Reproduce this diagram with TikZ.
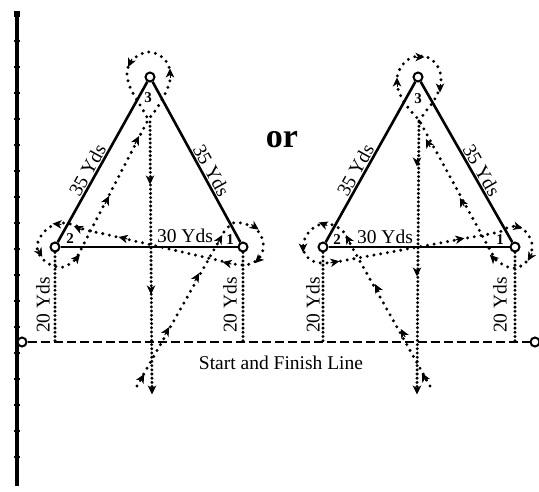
\documentclass[tikz,border=0pt]{standalone}
\usepackage{fontspec}
\setmainfont{Liberation Serif}
\usetikzlibrary{arrows.meta}
\newcommand\ahd[2]{\draw[ahead] (#1) ++(#2:-4.5) -- ++(#2:9);}
\begin{document}
\begin{tikzpicture}[x=1pt,y=-1pt,
  cone/.style={circle,draw,fill=white,line width=2pt,inner sep=0pt,minimum size=9pt},
  side/.style={line width=2.6pt},
  route/.style={line width=3.3pt,line cap=round,dash pattern=on 0pt off 6.8pt},
  dense/.style={line width=3.3pt,line cap=round,dash pattern=on 0pt off 4.2pt},
  ahead/.style={-{Stealth[length=9pt,width=8.5pt,inset=2.6pt]},line width=1pt},
  lab/.style={font=\fontsize{19.5}{21}\selectfont,inner sep=1pt},
  num/.style={font=\fontsize{15}{16}\selectfont\bfseries,inner sep=0pt},
]
\useasboundingbox (0,0) rectangle (539,491);

% pole
\draw[line width=3.4pt] (17,13) -- (17,486);
\foreach \yy in {15,41,...,457} \draw[line width=2.6pt] (13.8,\yy) -- (20.2,\yy);
\fill (14,11) rectangle (20,17);

% cones
\node[cone] (L1) at (243,247) {};
\node[cone] (L2) at (55,247) {};
\node[cone] (L3) at (150,77) {};
\node[cone] (R1) at (515,247) {};
\node[cone] (R2) at (323,247) {};
\node[cone] (R3) at (418,77) {};
\node[cone] (S1) at (22,342) {};
\node[cone] (S2) at (535,342) {};

% start line
\draw[line width=2.4pt,dash pattern=on 9pt off 4pt] (S1) -- (S2);

% triangles
\draw[side] (L2) -- node[lab,sloped,above,pos=0.42]{35 Yds} (L3) -- node[lab,sloped,above,pos=0.58]{35 Yds} (L1);
\draw[line width=2.3pt] (L2) -- (L1);
\draw[side] (R2) -- node[lab,sloped,above,pos=0.42]{35 Yds} (R3) -- node[lab,sloped,above,pos=0.58]{35 Yds} (R1);
\draw[line width=2.3pt] (R2) -- (R1);

% 20 yd lines
\draw[dense] (L2) -- (L2 |- S1);
\draw[dense] (L1) -- (L1 |- S1);
\draw[dense] (R2) -- (R2 |- S1);
\draw[dense] (R1) -- (R1 |- S1);

% labels
\node[lab] at (185,236) {30 Yds};
\node[lab] at (385,237) {30 Yds};
\node[lab,rotate=90] at (43,305) {20 Yds};
\node[lab,rotate=90] at (230,305) {20 Yds};
\node[lab,rotate=90] at (313,305) {20 Yds};
\node[lab,rotate=90] at (500,305) {20 Yds};
\node[font=\fontsize{34}{36}\selectfont\bfseries] at (282,140) {or};
\node[lab] at (281,363) {Start and Finish Line};
\node[num] at (148,98) {3};
\node[num] at (70,239) {2};
\node[num] at (230,240) {1};
\node[num] at (418,99) {3};
\node[num] at (337,240) {2};
\node[num] at (500,240) {1};

% left route
\draw[route] (137,386) -- (224,232)
  -- plot[smooth,tension=0.6] coordinates {(224,232) (233,223) (245,224) (256,229) (262,238) (263,250) (257,260) (246,265) (234,264)}
  -- (100,233)
  -- plot[smooth,tension=0.6] coordinates {(100,233) (86,230) (74,225) (62,223) (50,227) (41,236) (37,247) (41,257) (51,265) (64,267) (76,259)}
  -- (148,120)
  -- plot[smooth,tension=0.6] coordinates {(148,120) (157,108) (165,94) (170,80) (169,67) (162,57) (150,52) (139,55) (130,63) (127,74) (130,87) (137,100) (143,110) (149,121)};
\draw[dense] (150,122) -- (152,388);

\ahd{142,378}{-60.5} \ahd{167,331}{-60.5} \ahd{197,277}{-60.5} \ahd{220,239}{-60.5}
\ahd{255,227}{35} \ahd{258,260}{135} \ahd{227,263}{193} \ahd{123,238}{193}
\ahd{78,228}{205} \ahd{57,224}{185} \ahd{40,253}{60} \ahd{77,258}{-50}
\ahd{107,200}{-62.8} \ahd{137,140}{-62.8} \ahd{170,73}{-90} \ahd{130,63}{115}
\ahd{150,180}{90} \ahd{151,290}{90} \ahd{152,390}{90}

% right route
\draw[route] (430,386) -- (343,231)
  -- plot[smooth,tension=0.6] coordinates {(343,231) (333,225) (322,224) (312,229) (305,238) (303,248) (307,257) (315,262) (325,263) (336,262)}
  -- (500,232)
  -- plot[smooth,tension=0.6] coordinates {(500,232) (509,227) (519,227) (527,233) (532,244) (530,256) (523,265) (514,268) (505,266) (495,259)}
  -- (419,120)
  -- plot[smooth,tension=0.6] coordinates {(419,120) (410,110) (403,100) (398,89) (397,78) (401,67) (409,59) (420,56) (431,59) (438,67) (441,78) (439,90) (433,102) (426,111) (419,121)};
\draw[dense] (419,122) -- (417,388);

\ahd{424,377}{-118} \ahd{403,333}{-118} \ahd{377,288}{-118} \ahd{348,239}{-118}
\ahd{323,224}{200} \ahd{303,248}{90} \ahd{335,262}{-10} \ahd{460,239}{-10}
\ahd{518,227}{15} \ahd{530,257}{120} \ahd{493,258}{-135}
\ahd{462,202}{-118} \ahd{428,143}{-118}
\ahd{397,82}{-90} \ahd{420,57}{0} \ahd{440,88}{90}
\ahd{417,162}{90} \ahd{417,272}{90} \ahd{417,390}{90}
\end{tikzpicture}
\end{document}
